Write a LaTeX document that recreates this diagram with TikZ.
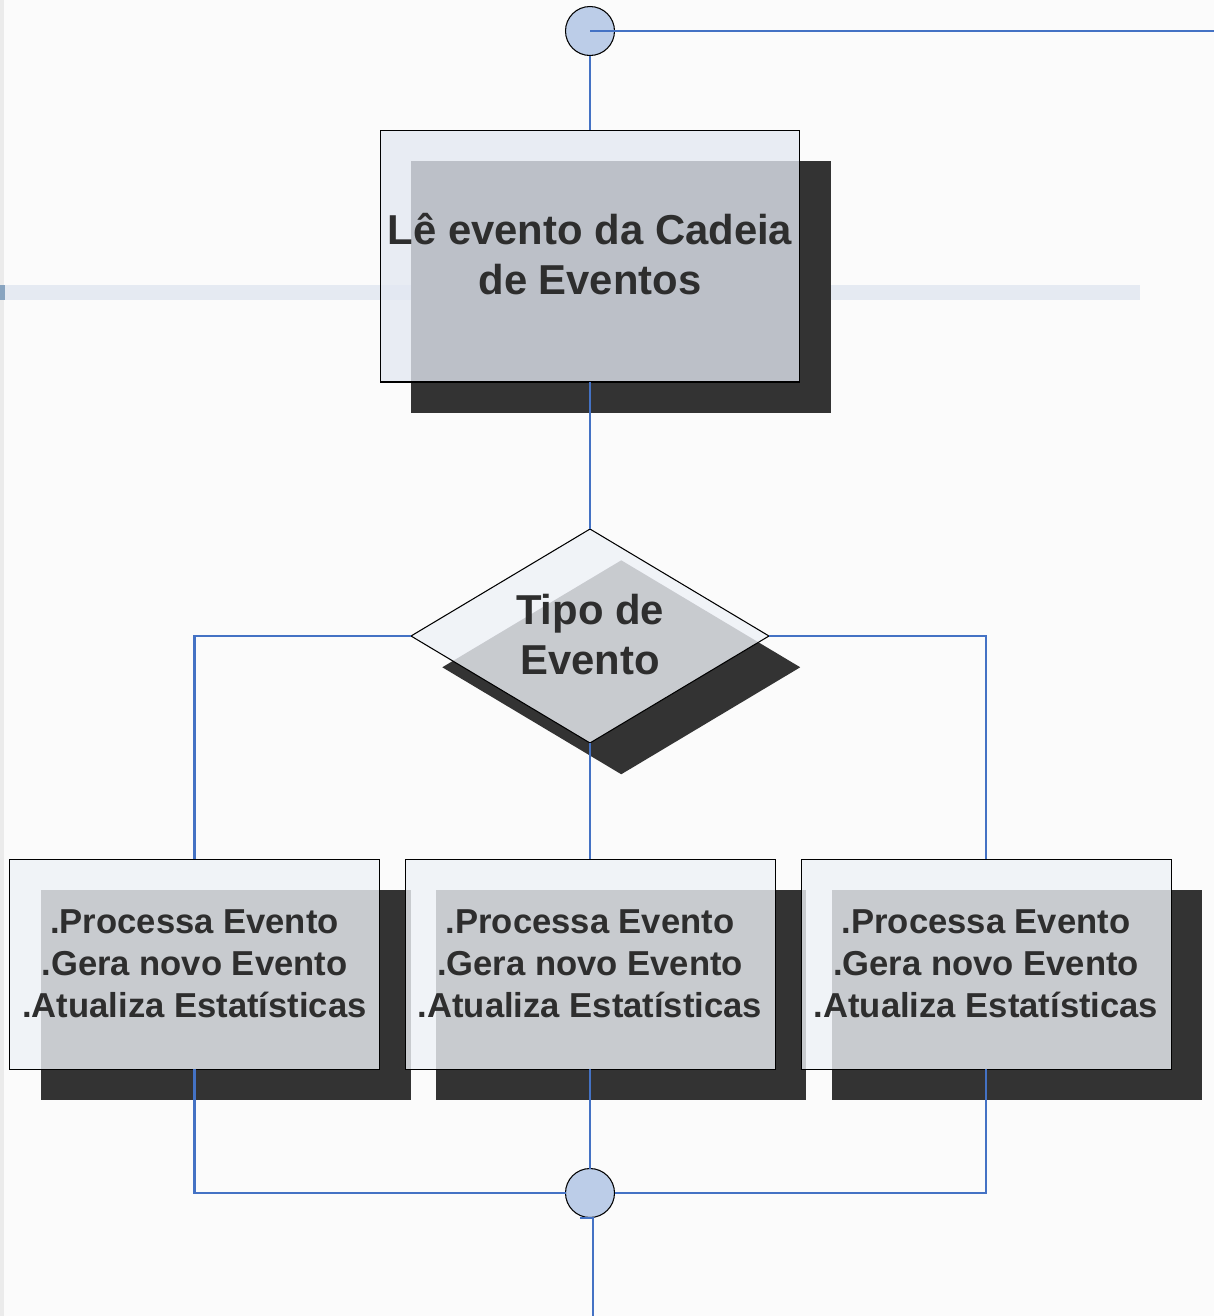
\documentclass[tikz,border=0pt]{standalone}
\usepackage{fontspec}
\setmainfont{Liberation Sans}
\usetikzlibrary{shapes.geometric,shadows}
\definecolor{bgc}{HTML}{FBFBFB}
\definecolor{stripc}{HTML}{EBEBEB}
\definecolor{bandc}{HTML}{E5EAF2}
\definecolor{bandend}{HTML}{88A4C0}
\definecolor{linec}{HTML}{4472C4}
\definecolor{circc}{HTML}{BCCDE8}
\definecolor{boxc}{HTML}{E3E8F2}
\definecolor{lboxc}{HTML}{EEF1F7}
\definecolor{shadc}{HTML}{333333}
\definecolor{txtc}{HTML}{2E2E2E}
\tikzset{
  conn/.style={draw=linec, line width=1.3pt},
  joint/.style={circle, draw=black, line width=0.6pt, fill=circc, minimum size=0.98cm, inner sep=0pt, outer sep=0pt},
  dshadow/.style={general shadow={shadow xshift=17.8pt, shadow yshift=-17.8pt, fill=shadc, opacity=1}},
  mainbox/.style={rectangle, draw=black, line width=0.6pt, fill=boxc, fill opacity=0.78, text opacity=1,
    minimum width=8.4cm, minimum height=5.04cm, inner sep=0pt, outer sep=0pt, dshadow,
    text=txtc, align=center, font=\bfseries\fontsize{23.8}{28.5}\selectfont},
  procbox/.style={rectangle, draw=black, line width=0.5pt, fill=lboxc, fill opacity=0.8, text opacity=1,
    minimum width=7.4cm, minimum height=4.2cm, inner sep=0pt, outer sep=0pt, dshadow,
    text=txtc, align=center, font=\bfseries\fontsize{19.7}{23.9}\selectfont},
  decis/.style={diamond, draw=black, line width=0.6pt, fill=lboxc, fill opacity=0.8,
    minimum width=7.16cm, minimum height=4.28cm, inner sep=0pt, outer sep=0pt, dshadow},
  dtext/.style={text=txtc, align=center, inner sep=0pt, font=\bfseries\fontsize{23.8}{28.5}\selectfont}
}
\begin{document}
\begin{tikzpicture}[x=0.02cm, y=-0.02cm]
\useasboundingbox (0,0) rectangle (1214,1316);
\fill[bgc] (0,0) rectangle (1214,1316);
\fill[stripc] (0,0) rectangle (4,1316);
\fill[bandc] (0,285) rectangle (1140,300);
\fill[bandend] (0,285) rectangle (5,300);

\node[joint] (c1) at (590,31) {};
\node[mainbox] (m) at (590,256) {};
\node[dtext] (ml) at (590,254) {Lê evento da Cadeia\\de Eventos};
\node[decis] (d) at (590,636) {};
\node[dtext] (dl) at (590,635) {Tipo de\\Evento};
\node[procbox] (b1) at (194.5,964) {.Processa Evento\\.Gera novo Evento\\.Atualiza Estatísticas};
\node[procbox] (b2) at (590,964) {.Processa Evento\\.Gera novo Evento\\.Atualiza Estatísticas};
\node[procbox] (b3) at (986,964) {.Processa Evento\\.Gera novo Evento\\.Atualiza Estatísticas};
\node[joint] (c2) at (590,1193) {};

\coordinate (tr) at (1214,31);
\coordinate (tk) at (580,1218);
\coordinate (bot) at (593,1316);

\draw[conn] (c1.center) -- (tr);
\draw[conn] (c1.south) -- (m.north);
\draw[conn] (m.south) -- (d.north);
\draw[conn] (d.west) -| (b1.north);
\draw[conn] (d.east) -| (b3.north);
\draw[conn] (d.south) -- (b2.north);
\draw[conn] (b1.south) |- (c2.west);
\draw[conn] (b3.south) |- (c2.east);
\draw[conn] (b2.south) -- (c2.north);
\draw[conn] (tk) -| (bot);
\end{tikzpicture}
\end{document}
